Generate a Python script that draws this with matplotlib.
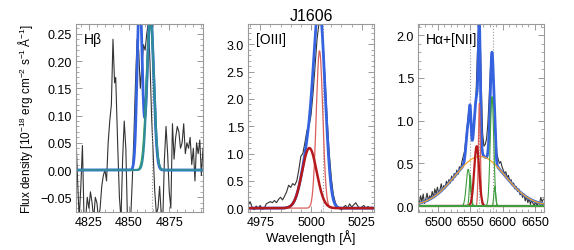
import numpy as np
import matplotlib
matplotlib.use("Agg")
import matplotlib.pyplot as plt
from matplotlib.ticker import MultipleLocator

plt.rcParams['font.family'] = ['Liberation Sans', 'DejaVu Sans']
plt.rcParams['mathtext.fontset'] = 'custom'
plt.rcParams['mathtext.rm'] = 'Liberation Sans'
plt.rcParams['mathtext.it'] = 'Liberation Sans'

# ---------------- data ----------------
# Panel 1: H-beta observed spectrum
hb_wave = [4817, 4818, 4819, 4820, 4821, 4822, 4823, 4824, 4825, 4826, 4827, 4828, 4829,
           4830, 4831, 4832, 4833, 4834, 4835, 4836, 4837, 4838, 4839, 4840, 4841, 4841.7,
           4843, 4844, 4845, 4846, 4847, 4848, 4849, 4850, 4851, 4852, 4853, 4854, 4855,
           4856, 4857, 4858, 4859, 4860, 4861, 4862, 4863, 4864, 4865, 4866, 4867, 4868,
           4869, 4870, 4871, 4872, 4873, 4874, 4875, 4876, 4877, 4878, 4879, 4880, 4881,
           4882, 4883, 4884, 4885, 4886, 4887, 4888, 4889, 4890, 4891, 4892, 4893, 4894,
           4895, 4896]
hb_flux = [0.06, -0.02, -0.09, -0.03, 0.045, -0.09, -0.09, -0.05, -0.07, -0.04, -0.06, -0.09,
           -0.05, -0.06, -0.09, -0.07, -0.03, -0.01, 0.00, -0.02, 0.05, 0.09, 0.12, 0.24, 0.16,
           0.17, 0.04, -0.05, -0.09, 0.02, 0.09, 0.04, -0.09, -0.10, -0.09, -0.02, 0.06, 0.16,
           0.24, 0.22, 0.15, 0.19, 0.23, 0.22, 0.25, 0.27, 0.20, 0.10, 0.03, -0.04, -0.08,
           -0.07, -0.03, -0.08, -0.09, 0.02, 0.08, 0.03, -0.04, -0.07, 0.085, 0.02, 0.06,
           0.08, 0.07, 0.04, 0.05, 0.085, 0.03, 0.05, 0.04, 0.06, 0.01, 0.04, -0.02, 0.05,
           0.03, 0.055, -0.01, 0.04]
# Gaussian fit components (centre, amplitude, sigma)
hb_total_comps = [(4856.6, 0.33, 1.5), (4863.3, 0.29, 2.0)]
hb_teal_comps = [(4863.3, 0.285, 2.1)]
hb_green_comps = [(4863.0, 0.275, 2.3)]
hb_line = 4864.0

# Panel 2: [OIII]
o3_wave = list(range(4969, 5032))
o3_flux = [0.05, 0.12, 0.02, -0.03, 0.04, 0.00, 0.05, -0.02, 0.00, 0.08, 0.10, 0.12, 0.10,
           0.14, 0.10, 0.16, 0.20, 0.15, 0.22, 0.30, 0.42, 0.38, 0.45, 0.42, 0.50, 0.70,
           0.95, 1.00, 1.20, 1.42, 1.50, 1.70, 2.10, 2.60, 3.10, 3.40, 3.40, 3.00, 2.30,
           1.60, 1.00, 0.55, 0.25, 0.10, 0.03, 0.00, -0.03, 0.02, 0.05, 0.00, 0.08, 0.02,
           0.06, 0.10, 0.04, 0.00, 0.02, 0.05, 0.00, 0.03, 0.01, 0.02, 0.00]
o3_broad = (4999.2, 1.10, 3.6)
o3_narrow = (5004.2, 2.88, 1.6)
o3_total_comps = [(4999.2, 1.10, 3.6), (5004.3, 3.30, 2.7)]
o3_line = 5005.8

# Panel 3: H-alpha + [NII]
ha_wave = list(range(6469, 6665, 2))
ha_flux = [0.10, 0.02, 0.12, 0.05, 0.14, 0.03, 0.08, 0.15, 0.06, 0.12, 0.09, 0.17, 0.10,
           0.20, 0.14, 0.22, 0.15, 0.19, 0.26, 0.18, 0.24, 0.21, 0.29, 0.25, 0.31, 0.27,
           0.35, 0.30, 0.38, 0.34, 0.42, 0.37, 0.46, 0.43, 0.52, 0.58, 0.64, 0.78, 0.92,
           1.08, 1.15, 1.02, 0.88, 0.90, 1.05, 1.35, 1.80, 2.15, 2.10, 1.40, 0.85, 0.70,
           0.72, 0.78, 0.95, 1.25, 1.60, 1.78, 1.65, 1.25, 0.88, 0.62, 0.55, 0.50, 0.52,
           0.46, 0.42, 0.38, 0.40, 0.33, 0.36, 0.29, 0.31, 0.24, 0.27, 0.20, 0.23, 0.17,
           0.20, 0.13, 0.16, 0.10, 0.14, 0.06, 0.11, 0.04, 0.09, 0.02, 0.07, 0.03, 0.01,
           0.05, 0.00, 0.04, 0.02, 0.10, 0.05, 0.08]
ha_broad = (6565.0, 0.58, 39.0)
ha_green_comps = [(6546.7, 0.43, 3.0), (6549.8, 0.36, 1.4), (6583.5, 1.28, 2.7), (6587.8, 0.23, 1.4)]
ha_red_thick = (6559.8, 0.70, 3.8)
ha_red_thin = (6564.0, 1.20, 1.5)
ha_lines = [6549.4, 6564.0, 6585.2]

# ---------------- helpers ----------------
def gauss(x, comp):
    c, a, s = comp
    return a * np.exp(-0.5 * ((x - c) / s) ** 2)

def gsum(x, comps):
    return sum(gauss(x, c) for c in comps)

BLUE = '#3563e0'
DRED = '#b5191c'
LRED = '#d9605c'
GREEN = '#3c9e3c'
ORANGE = '#f5a623'
TEAL = '#2f8c9c'
GRAY = '#9a9a9a'

W, H = 574, 251
fig = plt.figure(figsize=(W / 100, H / 100), dpi=100)

def mkax(x0, x1, y0=25, y1=213):
    return fig.add_axes([x0 / W, 1 - y1 / H, (x1 - x0) / W, (y1 - y0) / H])

def style(ax):
    for s in ax.spines.values():
        s.set_color(GRAY)
        s.set_linewidth(0.8)
    ax.tick_params(which='both', direction='in', top=True, right=True, color=GRAY,
                   labelsize=9, pad=3)
    ax.tick_params(which='major', length=4, width=0.7)
    ax.tick_params(which='minor', length=2, width=0.6)

# Panel 1
ax1 = mkax(76, 203)
x1 = np.linspace(4817, 4896, 800)
ax1.plot(hb_wave, hb_flux, color='#333333', lw=0.8)
ax1.axvline(hb_line, color=GRAY, lw=0.8, ls=':')
ax1.plot(x1, gsum(x1, hb_total_comps), color=BLUE, lw=2.0)
ax1.plot(x1, gsum(x1, hb_green_comps), color=GREEN, lw=0.8)
ax1.plot(x1, gsum(x1, hb_teal_comps), color=TEAL, lw=1.6)
ax1.set_xlim(4817, 4896)
ax1.set_ylim(-0.077, 0.268)
ax1.xaxis.set_major_locator(MultipleLocator(25))
ax1.xaxis.set_minor_locator(MultipleLocator(5))
ax1.yaxis.set_major_locator(MultipleLocator(0.05))
ax1.yaxis.set_minor_locator(MultipleLocator(0.01))
ax1.yaxis.set_major_formatter(plt.FuncFormatter(lambda v, p: f"{v:.2f}".replace('-', '\u2212')))
ax1.text(0.06, 0.96, 'H\u03b2', transform=ax1.transAxes, fontsize=10, va='top', ha='left')
ax1.set_ylabel('Flux density [10$^{-18}$ erg cm$^{-2}$ s$^{-1}$ \u00c5$^{-1}$]', fontsize=8.5,
               labelpad=4)
style(ax1)

# Panel 2
ax2 = mkax(248, 374)
x2 = np.linspace(4969, 5031, 800)
ax2.plot(o3_wave, o3_flux, color='#333333', lw=0.8)
ax2.axvline(o3_line, color=GRAY, lw=0.8, ls=':')
ax2.plot(x2, gsum(x2, o3_total_comps), color=BLUE, lw=2.0)
ax2.plot(x2, gauss(x2, o3_narrow), color=LRED, lw=0.9)
ax2.plot(x2, gauss(x2, o3_broad), color=DRED, lw=1.8)
ax2.set_xlim(4969, 5031)
ax2.set_ylim(-0.07, 3.37)
ax2.xaxis.set_major_locator(MultipleLocator(25))
ax2.xaxis.set_minor_locator(MultipleLocator(5))
ax2.yaxis.set_major_locator(MultipleLocator(0.5))
ax2.yaxis.set_minor_locator(MultipleLocator(0.1))
ax2.yaxis.set_major_formatter(plt.FuncFormatter(lambda v, p: f"{v:.1f}"))
ax2.text(0.06, 0.96, '[OIII]', transform=ax2.transAxes, fontsize=10, va='top', ha='left')
ax2.set_title('J1606', fontsize=11.5, pad=3)
ax2.set_xlabel('Wavelength [\u00c5]', fontsize=9.5, labelpad=1)
style(ax2)

# Panel 3
ax3 = mkax(418, 544)
x3 = np.linspace(6469, 6664, 1500)
ax3.plot(ha_wave, ha_flux, color='#333333', lw=0.8)
for l in ha_lines:
    ax3.axvline(l, color=GRAY, lw=0.8, ls=':')
total3 = gauss(x3, ha_broad) + gsum(x3, ha_green_comps) + gauss(x3, ha_red_thick) + gauss(x3, ha_red_thin)
ax3.plot(x3, total3, color=BLUE, lw=2.0)
ax3.plot(x3, gauss(x3, ha_broad), color=ORANGE, lw=0.9)
for c in ha_green_comps:
    ax3.plot(x3, gauss(x3, c), color=GREEN, lw=0.8)
ax3.plot(x3, gauss(x3, ha_red_thin), color=LRED, lw=0.9)
ax3.plot(x3, gauss(x3, ha_red_thick), color=DRED, lw=1.6)
ax3.axhline(0, color=GREEN, lw=1.5)
ax3.set_xlim(6469, 6664)
ax3.set_ylim(-0.07, 2.13)
ax3.xaxis.set_major_locator(MultipleLocator(50))
ax3.xaxis.set_minor_locator(MultipleLocator(10))
ax3.yaxis.set_major_locator(MultipleLocator(0.5))
ax3.yaxis.set_minor_locator(MultipleLocator(0.1))
ax3.yaxis.set_major_formatter(plt.FuncFormatter(lambda v, p: f"{v:.1f}"))
ax3.text(0.06, 0.96, 'H\u03b1+[NII]', transform=ax3.transAxes, fontsize=10, va='top', ha='left')
style(ax3)

fig.savefig('out.png', dpi=100)
